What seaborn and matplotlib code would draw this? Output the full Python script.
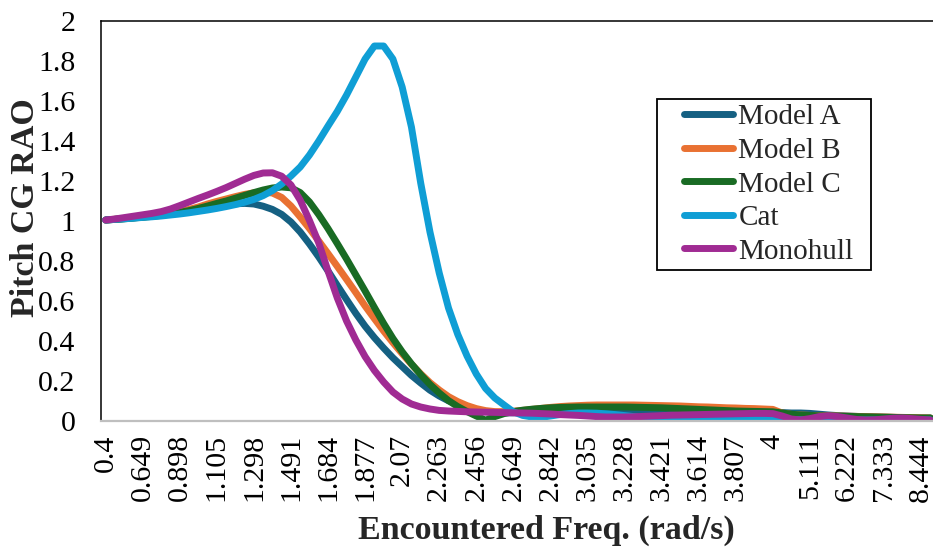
import numpy as np
import pandas as pd
import matplotlib
matplotlib.use("Agg")
import matplotlib.pyplot as plt
from matplotlib.legend_handler import HandlerLine2D
import seaborn as sns

# Encounter-frequency categories shown on the x axis (one label every 4 points)
freq_labels = ['0.4', '0.649', '0.898', '1.105', '1.298', '1.491', '1.684', '1.877',
               '2.07', '2.263', '2.456', '2.649', '2.842', '3.035', '3.228', '3.421',
               '3.614', '3.807', '4', '5.111', '6.222', '7.333', '8.444']
label_step = 4

hulls = ['Model A', 'Model B', 'Model C', 'Cat', 'Monohull']
colors = ['#156082', '#E97132', '#196B24', '#0F9ED5', '#A02B93']

model_a = [1.005, 1.008, 1.012, 1.016, 1.020, 1.025, 1.030, 1.037, 1.045, 1.053,
           1.061, 1.068, 1.075, 1.081, 1.086, 1.088, 1.085, 1.074, 1.058, 1.033,
           0.995, 0.945, 0.885, 0.820, 0.750, 0.678, 0.607, 0.538, 0.474, 0.417,
           0.365, 0.316, 0.272, 0.228, 0.190, 0.154, 0.125, 0.101, 0.084, 0.070,
           0.057, 0.047, 0.042, 0.041, 0.041, 0.042, 0.042, 0.042, 0.042, 0.042,
           0.042, 0.042, 0.042, 0.042, 0.042, 0.042, 0.042, 0.042, 0.042, 0.042,
           0.042, 0.042, 0.042, 0.042, 0.042, 0.042, 0.042, 0.042, 0.042, 0.042,
           0.042, 0.042, 0.042, 0.042, 0.040, 0.040, 0.038, 0.034, 0.030, 0.027,
           0.025, 0.023, 0.021, 0.020, 0.019, 0.018, 0.017, 0.016, 0.015, 0.015]

model_b = [1.005, 1.009, 1.013, 1.017, 1.021, 1.025, 1.030, 1.038, 1.047, 1.058,
           1.070, 1.085, 1.098, 1.110, 1.122, 1.133, 1.141, 1.145, 1.140, 1.118,
           1.075, 1.020, 0.962, 0.900, 0.837, 0.773, 0.708, 0.642, 0.575, 0.512,
           0.450, 0.392, 0.337, 0.284, 0.236, 0.192, 0.155, 0.122, 0.097, 0.077,
           0.062, 0.052, 0.047, 0.047, 0.049, 0.053, 0.058, 0.063, 0.068, 0.072,
           0.075, 0.077, 0.079, 0.080, 0.080, 0.080, 0.080, 0.080, 0.079, 0.078,
           0.077, 0.076, 0.075, 0.073, 0.071, 0.070, 0.068, 0.066, 0.065, 0.063,
           0.062, 0.060, 0.058, 0.040, 0.033, 0.030, 0.028, 0.027, 0.026, 0.025,
           0.024, 0.023, 0.022, 0.021, 0.020, 0.019, 0.018, 0.017, 0.016, 0.015]

model_c = [1.005, 1.008, 1.011, 1.015, 1.019, 1.023, 1.028, 1.035, 1.043, 1.052,
           1.063, 1.075, 1.088, 1.100, 1.114, 1.128, 1.142, 1.155, 1.165, 1.170,
           1.166, 1.142, 1.095, 1.032, 0.962, 0.887, 0.810, 0.730, 0.650, 0.568,
           0.488, 0.413, 0.346, 0.286, 0.232, 0.183, 0.140, 0.102, 0.072, 0.047,
           0.025, 0.004, 0.022, 0.037, 0.047, 0.054, 0.059, 0.063, 0.066, 0.068,
           0.069, 0.070, 0.070, 0.070, 0.070, 0.070, 0.070, 0.069, 0.068, 0.067,
           0.066, 0.064, 0.062, 0.060, 0.058, 0.056, 0.054, 0.052, 0.050, 0.049,
           0.048, 0.047, 0.046, 0.040, 0.034, 0.030, 0.028, 0.026, 0.025, 0.024,
           0.023, 0.022, 0.021, 0.020, 0.019, 0.018, 0.017, 0.016, 0.015, 0.015]

cat = [1.005, 1.008, 1.011, 1.014, 1.018, 1.021, 1.025, 1.030, 1.035, 1.041,
       1.048, 1.055, 1.063, 1.072, 1.082, 1.094, 1.108, 1.127, 1.152, 1.185,
       1.225, 1.270, 1.330, 1.400, 1.475, 1.548, 1.630, 1.720, 1.810, 1.875,
       1.875, 1.810, 1.670, 1.470, 1.190, 0.945, 0.740, 0.565, 0.433, 0.325,
       0.235, 0.163, 0.115, 0.080, 0.046, 0.028, 0.020, 0.018, 0.025, 0.032,
       0.037, 0.040, 0.040, 0.039, 0.036, 0.032, 0.027, 0.022, 0.017, 0.013,
       0.010, 0.009, 0.008, 0.008, 0.008, 0.008, 0.008, 0.008, 0.008, 0.008,
       0.008, 0.008, 0.008, 0.007, 0.007, 0.006, 0.006, 0.006, 0.006, 0.006,
       0.006, 0.005, 0.005, 0.005, 0.005, 0.005, 0.005, 0.005, 0.005, 0.005]

monohull = [1.005, 1.010, 1.017, 1.024, 1.031, 1.038, 1.047, 1.060, 1.077, 1.095,
            1.113, 1.130, 1.148, 1.167, 1.188, 1.209, 1.228, 1.240, 1.241, 1.224,
            1.180, 1.104, 1.002, 0.890, 0.750, 0.615, 0.500, 0.405, 0.322, 0.253,
            0.195, 0.145, 0.110, 0.085, 0.070, 0.060, 0.053, 0.050, 0.048, 0.046,
            0.045, 0.044, 0.043, 0.042, 0.041, 0.040, 0.039, 0.037, 0.035, 0.032,
            0.030, 0.028, 0.025, 0.022, 0.020, 0.020, 0.020, 0.021, 0.023, 0.025,
            0.027, 0.029, 0.030, 0.031, 0.032, 0.033, 0.034, 0.035, 0.036, 0.037,
            0.038, 0.038, 0.037, 0.025, 0.010, 0.005, 0.012, 0.022, 0.026, 0.022,
            0.015, 0.008, 0.005, 0.006, 0.010, 0.014, 0.015, 0.012, 0.008, 0.005]

series = [model_a, model_b, model_c, cat, monohull]
n_points = len(model_a)
point = np.arange(n_points)

df = pd.concat(
    [pd.DataFrame({'point': point, 'rao': vals, 'hull': name})
     for name, vals in zip(hulls, series)],
    ignore_index=True,
)

sns.set_theme(style="white")
plt.rcParams['font.family'] = ['Liberation Serif', 'DejaVu Serif']

fig = plt.figure(figsize=(9.33, 5.47), dpi=100)
ax = fig.add_axes([101 / 933, 126 / 547, 834 / 933, 400 / 547])

sns.lineplot(data=df, x='point', y='rao', hue='hull', hue_order=hulls,
             palette=colors, linewidth=5, sort=False, estimator=None,
             legend=False, ax=ax)
for line in ax.get_lines():
    line.set_solid_capstyle('round')
    line.set_solid_joinstyle('round')

ax.set_xlim(-0.5, n_points - 0.5)
ax.set_ylim(0, 2)
ax.set_yticks(np.round(np.arange(0, 2.01, 0.2), 1))
ax.set_yticklabels(['0', '0.2', '0.4', '0.6', '0.8', '1', '1.2', '1.4', '1.6', '1.8', '2'])
ax.set_xticks(np.arange(0, label_step * len(freq_labels), label_step))
ax.set_xticklabels(freq_labels, rotation=90)
ax.tick_params(axis='both', length=0, labelsize=21.5, colors='black')
ax.tick_params(axis='y', pad=18.5)
ax.tick_params(axis='x', pad=9.5)

for side in ['left', 'top']:
    ax.spines[side].set_color('black')
    ax.spines[side].set_linewidth(1.1)
ax.spines['bottom'].set_color('#BFBFBF')
ax.spines['bottom'].set_linewidth(1.6)
ax.spines['right'].set_visible(False)

ax.set_xlabel('Encountered Freq. (rad/s)', fontsize=24.5, fontweight='bold', va='center')
ax.set_ylabel('Pitch CG RAO', fontsize=24.5, fontweight='bold', va='center')
ax.xaxis.set_label_coords((546.5 - 101) / 834, (421 - 530) / 400)
ax.yaxis.set_label_coords((25 - 101) / 834, (421 - 208) / 400)

# Legend box spanning a fixed region of the plot, handles inset from the frame
legend_box = ((657 - 101) / 834, (421 - 269) / 400, (871 - 657) / 834, (269 - 99) / 400)
leg = ax.legend(ax.get_lines(), hulls, loc='upper left', mode='expand',
                bbox_to_anchor=legend_box,
                fontsize=21, frameon=True, fancybox=False, framealpha=1,
                edgecolor='black', handlelength=2.42, handletextpad=0.2,
                labelspacing=0.245, borderpad=0.17, borderaxespad=0,
                handler_map={l: HandlerLine2D(xpad=0.74) for l in ax.get_lines()})
leg.get_frame().set_linewidth(1.3)

fig.savefig('out.png', dpi=100)
